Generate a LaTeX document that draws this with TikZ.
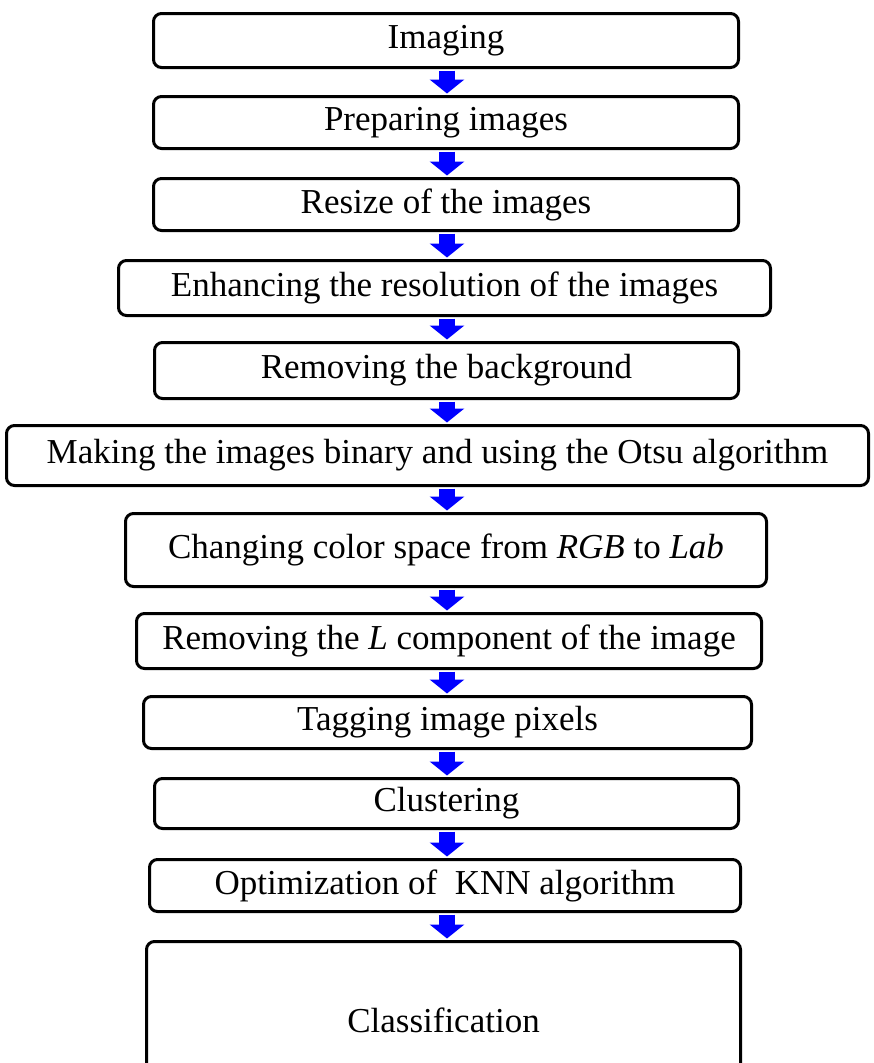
\documentclass[tikz,border=0pt]{standalone}
\usepackage{fontspec}
\setmainfont{Liberation Serif}
\usetikzlibrary{arrows.meta}
\tikzset{
  box/.style={draw=black, line width=3pt, rounded corners=8pt, fill=white,
    inner sep=0pt, align=center, font=\fontsize{35}{40}\selectfont},
  flow/.style={draw=blue, line width=16pt,
    -{Triangle[width=34pt,length=14pt,fill=blue]},
    shorten <=1.5pt, shorten >=1.5pt}
}
\begin{document}
\begin{tikzpicture}[x=1pt,y=-1pt]
\useasboundingbox (0,0) rectangle (873,1063);
\clip (0,0) rectangle (873,1063);
\node[box, minimum width=585pt, minimum height=54pt] (n1) at (446,40.5) {Imaging};
\node[box, minimum width=585pt, minimum height=52pt] (n2) at (446,122.5) {Preparing images};
\node[box, minimum width=585pt, minimum height=52pt] (n3) at (446,204.5) {Resize of the images};
\node[box, minimum width=652pt, minimum height=55pt] (n4) at (444.5,288) {Enhancing the resolution of the images};
\node[box, minimum width=584pt, minimum height=56pt] (n5) at (446.5,370.5) {Removing the background};
\node[box, minimum width=862pt, minimum height=60pt] (n6) at (437.5,455.5) {Making the images binary and using the Otsu algorithm};
\node[box, minimum width=641pt, minimum height=73pt] (n7) at (446,550) {Changing color space from \textit{RGB} to \textit{Lab}};
\node[box, minimum width=625pt, minimum height=55pt] (n8) at (449,641) {Removing the \textit{L} component of the image};
\node[box, minimum width=608pt, minimum height=52pt] (n9) at (447.5,722.5) {Tagging image pixels};
\node[box, minimum width=584pt, minimum height=50pt] (n10) at (446.5,803.5) {Clustering};
\node[box, minimum width=591pt, minimum height=52pt] (n11) at (445,885.5) {Optimization of~ KNN algorithm};
\node[box, minimum width=594pt, minimum height=157pt] (n12) at (443.5,1020) {Classification};
\foreach \a/\b in {n1/n2,n2/n3,n3/n4,n4/n5,n5/n6,n6/n7,n7/n8,n8/n9,n9/n10,n10/n11,n11/n12}{
  \coordinate (s-\a) at (447,0 |- \a.south);
  \draw[flow] (447,0 |- \a.south) -- (447,0 |- \b.north);
}
\end{tikzpicture}
\end{document}
